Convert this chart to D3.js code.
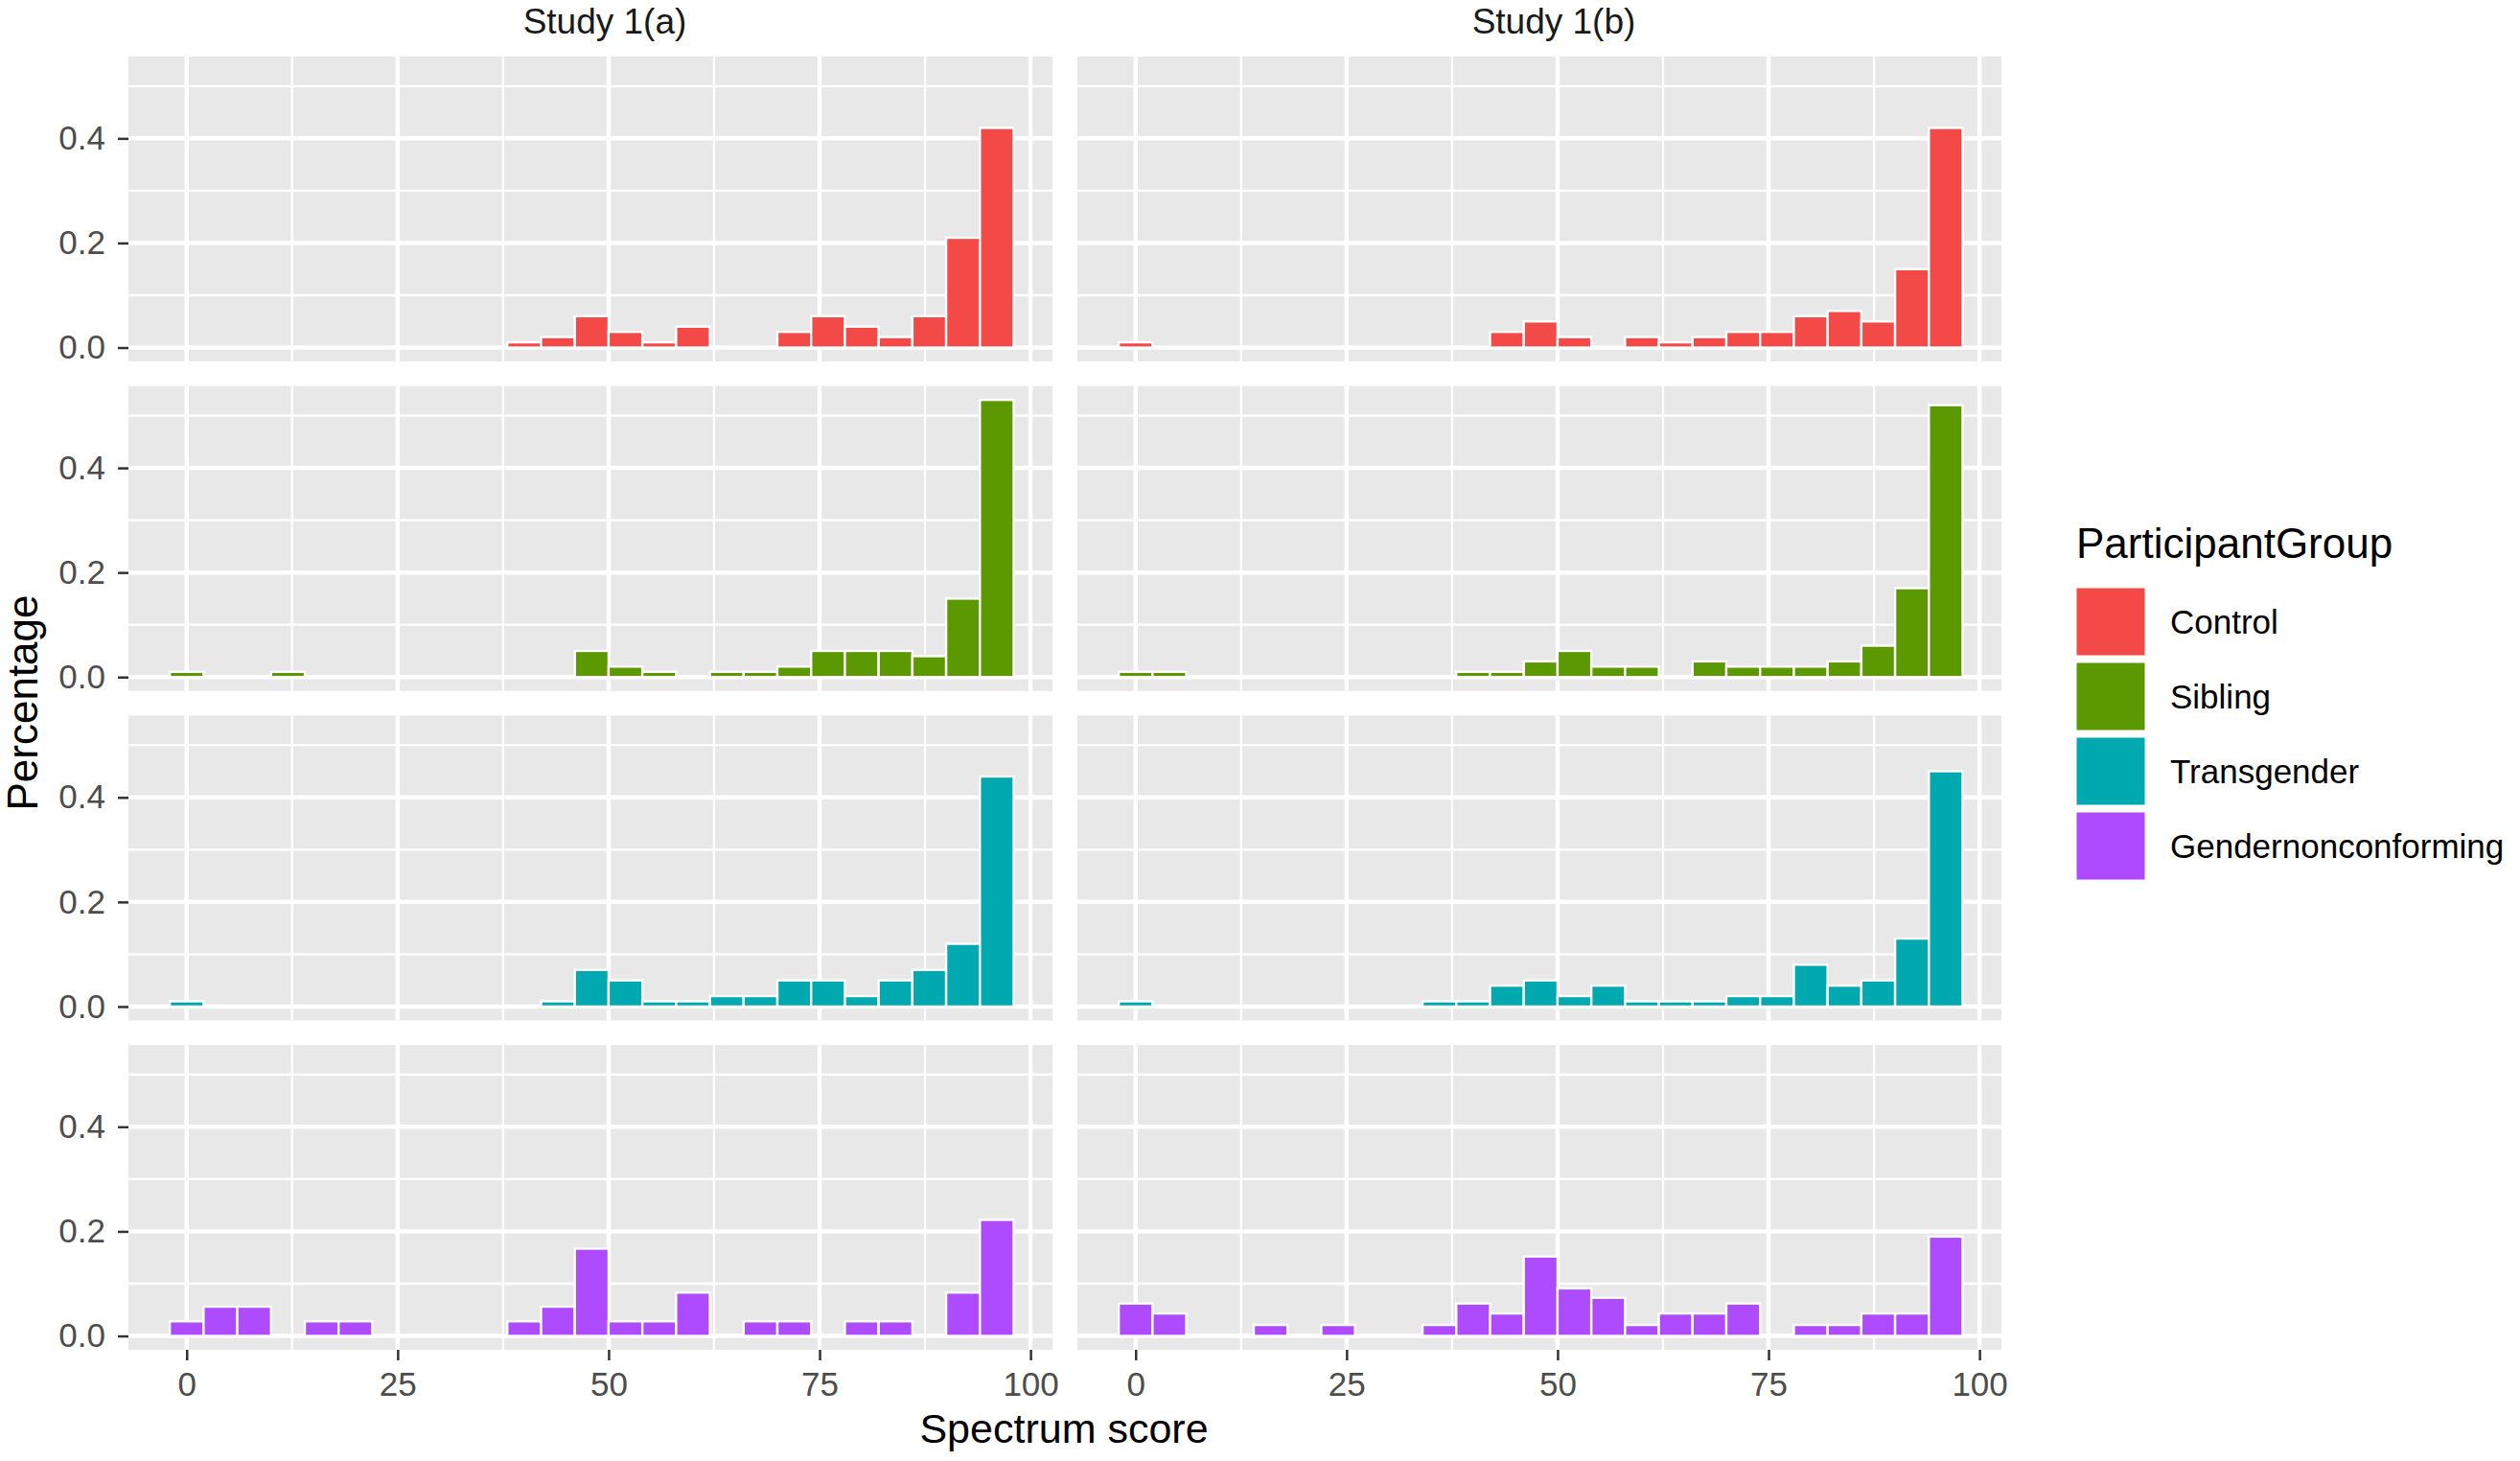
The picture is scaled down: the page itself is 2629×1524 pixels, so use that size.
<!DOCTYPE html>
<html>
<head>
<meta charset="utf-8">
<script src="https://cdn.jsdelivr.net/npm/d3@7"></script>
<style>
  html, body { margin: 0; padding: 0; background: #ffffff; }
  svg text { font-family: "Liberation Sans", Arial, Helvetica, sans-serif; }
</style>
</head>
<body>
<svg id="chart" width="2629" height="1524"></svg>
<script>
// ---------------- DATA ----------------
const binCenters = [0,4,8,12,16,20,24,28,32,36,40,44,48,52,56,60,64,68,72,76,80,84,88,92,96];
const studies = ["Study 1(a)", "Study 1(b)"];
const groups = ["Control", "Sibling", "Transgender", "Gendernonconforming"];
const groupColors = ["#F44A47", "#5C9900", "#00A8B0", "#AF4BFF"];
const xTickValues = [0, 25, 50, 75, 100];
const yTickValues = [0.0, 0.2, 0.4];

const controlA = [0,0,0,0,0,0,0,0,0,0,0.01,0.02,0.06,0.03,0.01,0.04,0,0,0.03,0.06,0.04,0.02,0.06,0.21,0.42];
const controlB = [0.01,0,0,0,0,0,0,0,0,0,0,0.03,0.05,0.02,0,0.02,0.01,0.02,0.03,0.03,0.06,0.07,0.05,0.15,0.42];
const siblingA = [0.01,0,0,0.01,0,0,0,0,0,0,0,0,0.05,0.02,0.01,0,0.01,0.01,0.02,0.05,0.05,0.05,0.04,0.15,0.53];
const siblingB = [0.01,0.01,0,0,0,0,0,0,0,0,0.01,0.01,0.03,0.05,0.02,0.02,0,0.03,0.02,0.02,0.02,0.03,0.06,0.17,0.52];
const transA   = [0.01,0,0,0,0,0,0,0,0,0,0,0.01,0.07,0.05,0.01,0.01,0.02,0.02,0.05,0.05,0.02,0.05,0.07,0.12,0.44];
const transB   = [0.01,0,0,0,0,0,0,0,0,0.01,0.01,0.04,0.05,0.02,0.04,0.01,0.01,0.01,0.02,0.02,0.08,0.04,0.05,0.13,0.45];
const gncA     = [0.028,0.056,0.056,0,0.028,0.028,0,0,0,0,0.028,0.056,0.167,0.028,0.028,0.083,0,0.028,0.028,0,0.028,0.028,0,0.083,0.222];
const gncB     = [0.062,0.043,0,0,0.021,0,0.021,0,0,0.021,0.062,0.043,0.152,0.091,0.073,0.021,0.043,0.043,0.062,0,0.021,0.021,0.043,0.043,0.19];

const seriesByGroup = [
  [controlA, controlB],
  [siblingA, siblingB],
  [transA, transB],
  [gncA, gncB]
];
const binWidth = 4;

// ---------------- LAYOUT ----------------
const svg = d3.select("#chart");
const panelW = 964, panelH = 318;
const colLeft = [134, 1124];
const rowTop = [59, 402.7, 746.4, 1090];

const x = d3.scaleLinear().domain([-6.9, 102.6]).range([0, panelW]);
const y = d3.scaleLinear().domain([-0.0265, 0.5565]).range([panelH, 0]);

const xMinor = [12.5, 37.5, 62.5, 87.5];
const yMinor = [0.1, 0.3, 0.5];

groups.forEach((g, r) => {
  studies.forEach((s, c) => {
    const p = svg.append("g").attr("transform", `translate(${colLeft[c]},${rowTop[r]})`);
    p.append("rect").attr("width", panelW).attr("height", panelH).attr("fill", "#E8E8E8");
    // minor grid
    p.selectAll(".hmin").data(yMinor).join("line")
      .attr("x1", 0).attr("x2", panelW).attr("y1", d => y(d)).attr("y2", d => y(d))
      .attr("stroke", "#fff").attr("stroke-width", 2.3);
    p.selectAll(".vmin").data(xMinor).join("line")
      .attr("y1", 0).attr("y2", panelH).attr("x1", d => x(d)).attr("x2", d => x(d))
      .attr("stroke", "#fff").attr("stroke-width", 2.3);
    // major grid
    p.selectAll(".hmaj").data(yTickValues).join("line")
      .attr("x1", 0).attr("x2", panelW).attr("y1", d => y(d)).attr("y2", d => y(d))
      .attr("stroke", "#fff").attr("stroke-width", 4.5);
    p.selectAll(".vmaj").data(xTickValues).join("line")
      .attr("y1", 0).attr("y2", panelH).attr("x1", d => x(d)).attr("x2", d => x(d))
      .attr("stroke", "#fff").attr("stroke-width", 4.5);
    // bars
    const vals = seriesByGroup[r][c];
    const data = binCenters.map((b, i) => ({b, v: vals[i]})).filter(d => d.v > 0);
    p.selectAll(".bar").data(data).join("rect")
      .attr("x", d => x(d.b - binWidth / 2))
      .attr("width", d => x(d.b + binWidth / 2) - x(d.b - binWidth / 2))
      .attr("y", d => y(d.v))
      .attr("height", d => y(0) - y(d.v))
      .attr("fill", groupColors[r])
      .attr("stroke", "#fff").attr("stroke-width", 2.4);

    // y axis on left column
    if (c === 0) {
      const ya = p.append("g").call(d3.axisLeft(y).tickValues(yTickValues)
        .tickFormat(d3.format(".1f")).tickSize(11).tickPadding(13));
      ya.select(".domain").remove();
      ya.selectAll(".tick line").attr("stroke", "#333").attr("stroke-width", 2.5);
      ya.selectAll(".tick text").attr("fill", "#4D4D4D").style("font-size", "35px")
        .style("font-family", '"Liberation Sans", Arial, sans-serif');
    }
    // x axis on bottom row
    if (r === groups.length - 1) {
      const xa = p.append("g").attr("transform", `translate(0,${panelH})`)
        .call(d3.axisBottom(x).tickValues(xTickValues).tickSize(11).tickPadding(12));
      xa.select(".domain").remove();
      xa.selectAll(".tick line").attr("stroke", "#333").attr("stroke-width", 2.5);
      xa.selectAll(".tick text").attr("fill", "#4D4D4D").style("font-size", "35px")
        .style("font-family", '"Liberation Sans", Arial, sans-serif');
    }
    // strip label on top row
    if (r === 0) {
      svg.append("text")
        .attr("x", colLeft[c] + panelW / 2 + 15).attr("y", 35)
        .attr("text-anchor", "middle").attr("fill", "#1A1A1A")
        .style("font-size", "37px").text(s);
    }
  });
});

// axis titles
svg.append("text").attr("x", 1110).attr("y", 1505).attr("text-anchor", "middle")
  .attr("fill", "#000").style("font-size", "43px").text("Spectrum score");
svg.append("text").attr("transform", "translate(39,733) rotate(-90)").attr("text-anchor", "middle")
  .attr("fill", "#000").style("font-size", "44px").text("Percentage");

// legend
const leg = svg.append("g").attr("transform", "translate(2166,0)");
leg.append("text").attr("x", 0).attr("y", 582).attr("fill", "#000")
  .style("font-size", "44px").text("ParticipantGroup");
const legItems = leg.selectAll(".li").data(groups).join("g")
  .attr("transform", (d, i) => `translate(0,${613 + i * 78})`);
legItems.append("rect").attr("width", 72).attr("height", 71)
  .attr("fill", (d, i) => groupColors[i]).attr("stroke", "#fff").attr("stroke-width", 1);
legItems.append("text").attr("x", 98).attr("y", 35.5).attr("dy", "0.35em")
  .attr("fill", "#000").style("font-size", "35px").text(d => d);
</script>
</body>
</html>
